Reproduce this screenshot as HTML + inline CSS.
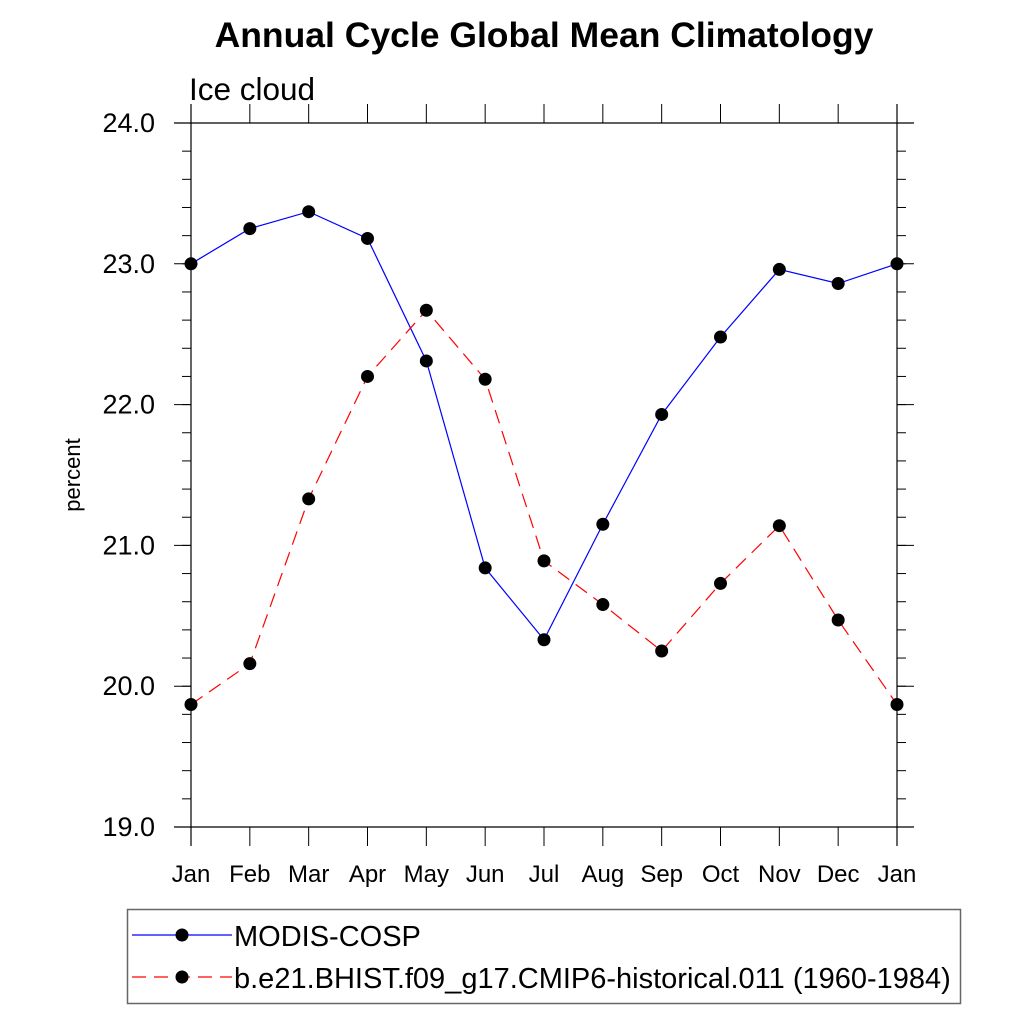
<!DOCTYPE html>
<html><head><meta charset="utf-8"><style>
body{margin:0;background:#fff}
svg text{font-family:"Liberation Sans",sans-serif}
</style></head><body>
<svg id="chart" width="1024" height="1024" xmlns="http://www.w3.org/2000/svg">
<text x="544" y="47" font-size="35.5" font-weight="bold" text-anchor="middle">Annual Cycle Global Mean Climatology</text>
<text x="189" y="100" font-size="31.5">Ice cloud</text>
<text transform="translate(80,475) rotate(-90)" font-size="22" text-anchor="middle">percent</text>
<g id="axes"></g>
<g id="series"></g>
<g>
<rect x="127.5" y="909.5" width="833" height="94" fill="none" stroke="#666" stroke-width="1.5"/>
<g>
<line x1="132" y1="935" x2="232" y2="935" stroke="#00f" stroke-width="1.2"/>
<circle cx="182" cy="935" r="6.5" fill="#000"/>
<text x="234" y="946" font-size="29">MODIS-COSP</text></g>
<g>
<line x1="132" y1="977" x2="232" y2="977" stroke="#f00" stroke-width="1.2" stroke-dasharray="14,8"/>
<circle cx="182" cy="977" r="6.5" fill="#000"/>
<text x="234" y="988" font-size="29">b.e21.BHIST.f09_g17.CMIP6-historical.011 (1960-1984)</text></g>
</g>
</svg>
<script>
const months=["Jan","Feb","Mar","Apr","May","Jun","Jul","Aug","Sep","Oct","Nov","Dec","Jan"];
const modis=[23.0,23.25,23.37,23.18,22.31,20.84,20.33,21.15,21.93,22.48,22.96,22.86,23.0];
const model=[19.87,20.16,21.33,22.20,22.67,22.18,20.89,20.58,20.25,20.73,21.14,20.47,19.87];
const yTicks=[19.0,20.0,21.0,22.0,23.0,24.0];
const yMin=19,yMax=24;
const X0=191,X1=897,Y0=827,Y1=123;
const xs=i=>X0+(X1-X0)*i/(months.length-1);
const ys=v=>Y0-(v-yMin)/(yMax-yMin)*(Y0-Y1);
const NS="http://www.w3.org/2000/svg";
function mk(tag,attrs,parent){const e=document.createElementNS(NS,tag);for(const k in attrs)e.setAttribute(k,attrs[k]);parent.appendChild(e);return e;}
const ax=document.getElementById('axes');
let e;
e=mk('line',{x1:X0,y1:104,x2:X0,y2:846,stroke:'#000','stroke-width':1.2},ax);


e=mk('line',{x1:X1,y1:104,x2:X1,y2:846,stroke:'#000','stroke-width':1.2},ax);


e=mk('line',{x1:174,y1:Y1,x2:914,y2:Y1,stroke:'#000','stroke-width':1.2},ax);


e=mk('line',{x1:174,y1:Y0,x2:914,y2:Y0,stroke:'#000','stroke-width':1.2},ax);


months.forEach((m,i)=>{const x=xs(i);
 mk('line',{x1:x,y1:Y1,x2:x,y2:104,stroke:'#000','stroke-width':1},ax);
 mk('line',{x1:x,y1:Y0,x2:x,y2:846,stroke:'#000','stroke-width':1},ax);
 const t=mk('text',{x:x,y:882,'font-size':24,'text-anchor':'middle'},ax);t.textContent=m;
 
 
});
yTicks.forEach(v=>{const y=ys(v);
 mk('line',{x1:174,y1:y,x2:X0,y2:y,stroke:'#000','stroke-width':1},ax);
 mk('line',{x1:X1,y1:y,x2:914,y2:y,stroke:'#000','stroke-width':1},ax);
 const t=mk('text',{x:155,y:y+9,'font-size':27,'text-anchor':'end'},ax);t.textContent=v.toFixed(1);
 
 
});
for(let v=yMin;v<yMax-0.001;v+=0.2){const y=ys(v);
 mk('line',{x1:182,y1:y,x2:X0,y2:y,stroke:'#000','stroke-width':1},ax);
 mk('line',{x1:X1,y1:y,x2:906,y2:y,stroke:'#000','stroke-width':1},ax);}
const sg=document.getElementById('series');
function draw(data,color,dash,name){
 const p=mk('polyline',{points:data.map((v,i)=>xs(i)+','+ys(v)).join(' '),fill:'none',stroke:color,'stroke-width':1.2},sg);
 if(dash)p.setAttribute('stroke-dasharray',dash);
 
 
 data.forEach((v,i)=>{const c=mk('circle',{cx:xs(i),cy:ys(v),r:6.5,fill:'#000'},sg);
  
  });
}
draw(modis,'#00f',null,'modis');
draw(model,'#f00','14,8','model');
</script>
</body></html>
